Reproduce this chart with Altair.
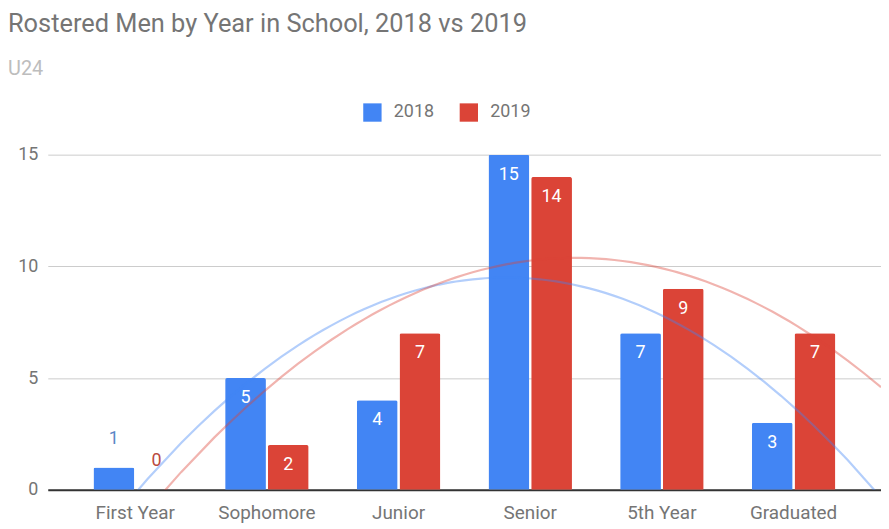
import altair as alt
import pandas as pd

# %%
categories = ["First Year", "Sophomore", "Junior", "Senior", "5th Year", "Graduated"]
years = ["2018", "2019"]
counts_2018 = [1, 5, 4, 15, 7, 3]
counts_2019 = [0, 2, 7, 14, 9, 7]

bar_colors = ["#4285F4", "#DB4437"]
outside_label_colors = ["#5b86c5", "#b94a3f"]

rows = []
for i, cat in enumerate(categories):
    rows.append({"category": cat, "idx": i + 1, "year": "2018", "value": counts_2018[i]})
    rows.append({"category": cat, "idx": i + 1, "year": "2019", "value": counts_2019[i]})
df = pd.DataFrame(rows)

# %%
x_band = alt.Scale(domain=categories, paddingInner=0.366, paddingOuter=0.347)
x_off = alt.Scale(domain=years, paddingInner=0.045, paddingOuter=0)
y_scale = alt.Scale(domain=[0, 15], nice=False)

base = alt.Chart(df)

bars = base.mark_bar(cornerRadiusTopLeft=2, cornerRadiusTopRight=2).encode(
    x=alt.X("category:N", scale=x_band, sort=categories,
            axis=alt.Axis(title=None, labelAngle=0, ticks=False, grid=False,
                          domainColor="#333333", domainWidth=2,
                          labelFontSize=19, labelColor="#757575", labelPadding=14)),
    xOffset=alt.XOffset("year:N", scale=x_off),
    y=alt.Y("value:Q", scale=y_scale,
            axis=alt.Axis(title=None, values=[0, 5, 10, 15], domain=False, ticks=False,
                          gridColor="#cccccc", labelFontSize=18, labelColor="#757575",
                          labelPadding=10)),
    color=alt.Color("year:N", scale=alt.Scale(domain=years, range=bar_colors),
                    legend=alt.Legend(title=None, orient="none", direction="horizontal",
                                      legendX=317, legendY=-52, symbolType="square",
                                      symbolSize=340, symbolStrokeWidth=0,
                                      labelFontSize=18, labelColor="#757575",
                                      labelOffset=12, columnPadding=25)),
)

# quadratic trendlines, as in the sheet
trend = base.transform_regression(
    "idx", "value", groupby=["year"], method="poly", order=2, extent=[0.335, 6.665]
).mark_line(clip=True, strokeWidth=2.2, opacity=0.4).encode(
    x=alt.X("idx:Q", scale=alt.Scale(domain=[0.335, 6.665], nice=False, zero=False), axis=None),
    y=alt.Y("value:Q", scale=y_scale),
    stroke=alt.Stroke("year:N", scale=alt.Scale(domain=years, range=bar_colors), legend=None),
)

labels_in = base.transform_filter("datum.value >= 2").mark_text(
    font="Roboto", fontSize=18, color="white", dy=20, baseline="middle"
).encode(
    x=alt.X("category:N", scale=x_band, sort=categories, axis=None),
    xOffset=alt.XOffset("year:N", scale=x_off),
    y=alt.Y("value:Q", scale=y_scale),
    text="value:Q",
)

labels_out = base.transform_filter("datum.value < 2").mark_text(
    font="Roboto", fontSize=18, dy=-29, baseline="middle"
).encode(
    x=alt.X("category:N", scale=x_band, sort=categories, axis=None),
    xOffset=alt.XOffset("year:N", scale=x_off),
    y=alt.Y("value:Q", scale=y_scale),
    text="value:Q",
    fill=alt.Fill("year:N", scale=alt.Scale(domain=years, range=outside_label_colors), legend=None),
)

chart = alt.layer(bars, trend, labels_in, labels_out).resolve_scale(
    x="independent"
).properties(
    width=838,
    height=337,
    title=alt.Title("Rostered Men by Year in School, 2018 vs 2019", subtitle="U24",
                    anchor="start", frame="group", dx=-40, offset=24),
    autosize=alt.AutoSizeParams(type="none"),
    padding={"left": 40, "top": 146, "right": 0, "bottom": 36},
).configure(font="Roboto").configure_title(
    font="Roboto", fontSize=25.5, fontWeight="normal", color="#757575",
    subtitleFont="Roboto", subtitleFontSize=20, subtitleColor="#bdbdbd", subtitlePadding=22,
).configure_view(stroke=None)

chart.save("out.html", embed_options={"renderer": "svg", "actions": False})
